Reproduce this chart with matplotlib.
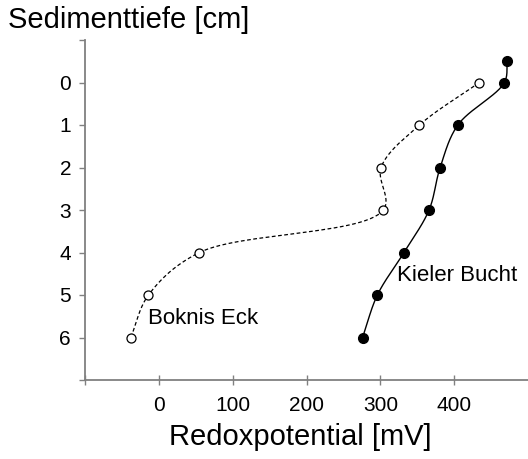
import numpy as np
import matplotlib
matplotlib.use("Agg")
import matplotlib.pyplot as plt

plt.rcParams['font.family'] = ['Liberation Sans', 'DejaVu Sans']

# Data
boknis_depth = [0, 1, 2, 3, 4, 5, 6]
boknis_redox = [434, 353, 301, 304, 55, -14, -38]
kiel_depth = [-0.5, 0, 1, 2, 3, 4, 5, 6]
kiel_redox = [472, 468, 405, 381, 366, 332, 296, 276]
xticks = [0, 100, 200, 300, 400]
yticks = [0, 1, 2, 3, 4, 5, 6]

fig = plt.figure(figsize=(5.28, 4.59), dpi=100)
ax = fig.add_axes([85/528, 1-380/459, 1-85/528, (380-40)/459])
ax.set_xlim(-100, 500)
ax.set_ylim(7, -1)


def smooth(ax, xs, ys, n=30):
    pts = ax.transData.transform(np.column_stack([xs, ys]))
    P = np.vstack([2*pts[0]-pts[1], pts, 2*pts[-1]-pts[-2]])
    out = []
    alpha = 0.5
    for i in range(1, len(P)-2):
        p0, p1, p2, p3 = P[i-1], P[i], P[i+1], P[i+2]
        t0 = 0.0
        t1 = t0 + np.linalg.norm(p1-p0)**alpha
        t2 = t1 + np.linalg.norm(p2-p1)**alpha
        t3 = t2 + np.linalg.norm(p3-p2)**alpha
        t = np.linspace(t1, t2, n)[:, None]
        A1 = (t1-t)/(t1-t0)*p0 + (t-t0)/(t1-t0)*p1
        A2 = (t2-t)/(t2-t1)*p1 + (t-t1)/(t2-t1)*p2
        A3 = (t3-t)/(t3-t2)*p2 + (t-t2)/(t3-t2)*p3
        B1 = (t2-t)/(t2-t0)*A1 + (t-t0)/(t2-t0)*A2
        B2 = (t3-t)/(t3-t1)*A2 + (t-t1)/(t3-t1)*A3
        C = (t2-t)/(t2-t1)*B1 + (t-t1)/(t2-t1)*B2
        out.append(C)
    out = np.vstack(out)
    d = ax.transData.inverted().transform(out)
    return d[:, 0], d[:, 1]

bx, by = smooth(ax, boknis_redox, boknis_depth)
ax.plot(bx, by, color='black', lw=0.9, dashes=(3, 2))
ax.plot(boknis_redox, boknis_depth, 'o', mfc='white', mec='black', ms=6.5, mew=0.9)

kx, ky = smooth(ax, kiel_redox, kiel_depth)
ax.plot(kx, ky, color='black', lw=1.0)
ax.plot(kiel_redox, kiel_depth, 'o', color='black', ms=7)

ax.text(-14, 5.55, 'Boknis Eck', fontsize=16, ha='left', va='center')
ax.text(323, 4.55, 'Kieler Bucht', fontsize=16, ha='left', va='center')

for s in ['top', 'right']:
    ax.spines[s].set_visible(False)
for s in ['left', 'bottom']:
    ax.spines[s].set_color('#808080')
    ax.spines[s].set_linewidth(1.3)

ax.set_xticks([-100] + xticks)
ax.set_xticklabels([''] + [str(v) for v in xticks])
ax.set_yticks([-1] + yticks + [7])
ax.set_yticklabels([''] + [str(v) for v in yticks] + [''])
ax.tick_params(axis='x', direction='inout', length=7, width=1, color='#808080', labelsize=15, pad=8)
ax.tick_params(axis='y', direction='out', length=4, width=1, color='#808080', labelsize=15, pad=6)

fig.text(8/528, 1-20/459, 'Sedimenttiefe [cm]', fontsize=21, ha='left', va='center')
fig.text(300/528, 1-437/459, 'Redoxpotential [mV]', fontsize=21, ha='center', va='center')

fig.savefig('out.png', dpi=100)
